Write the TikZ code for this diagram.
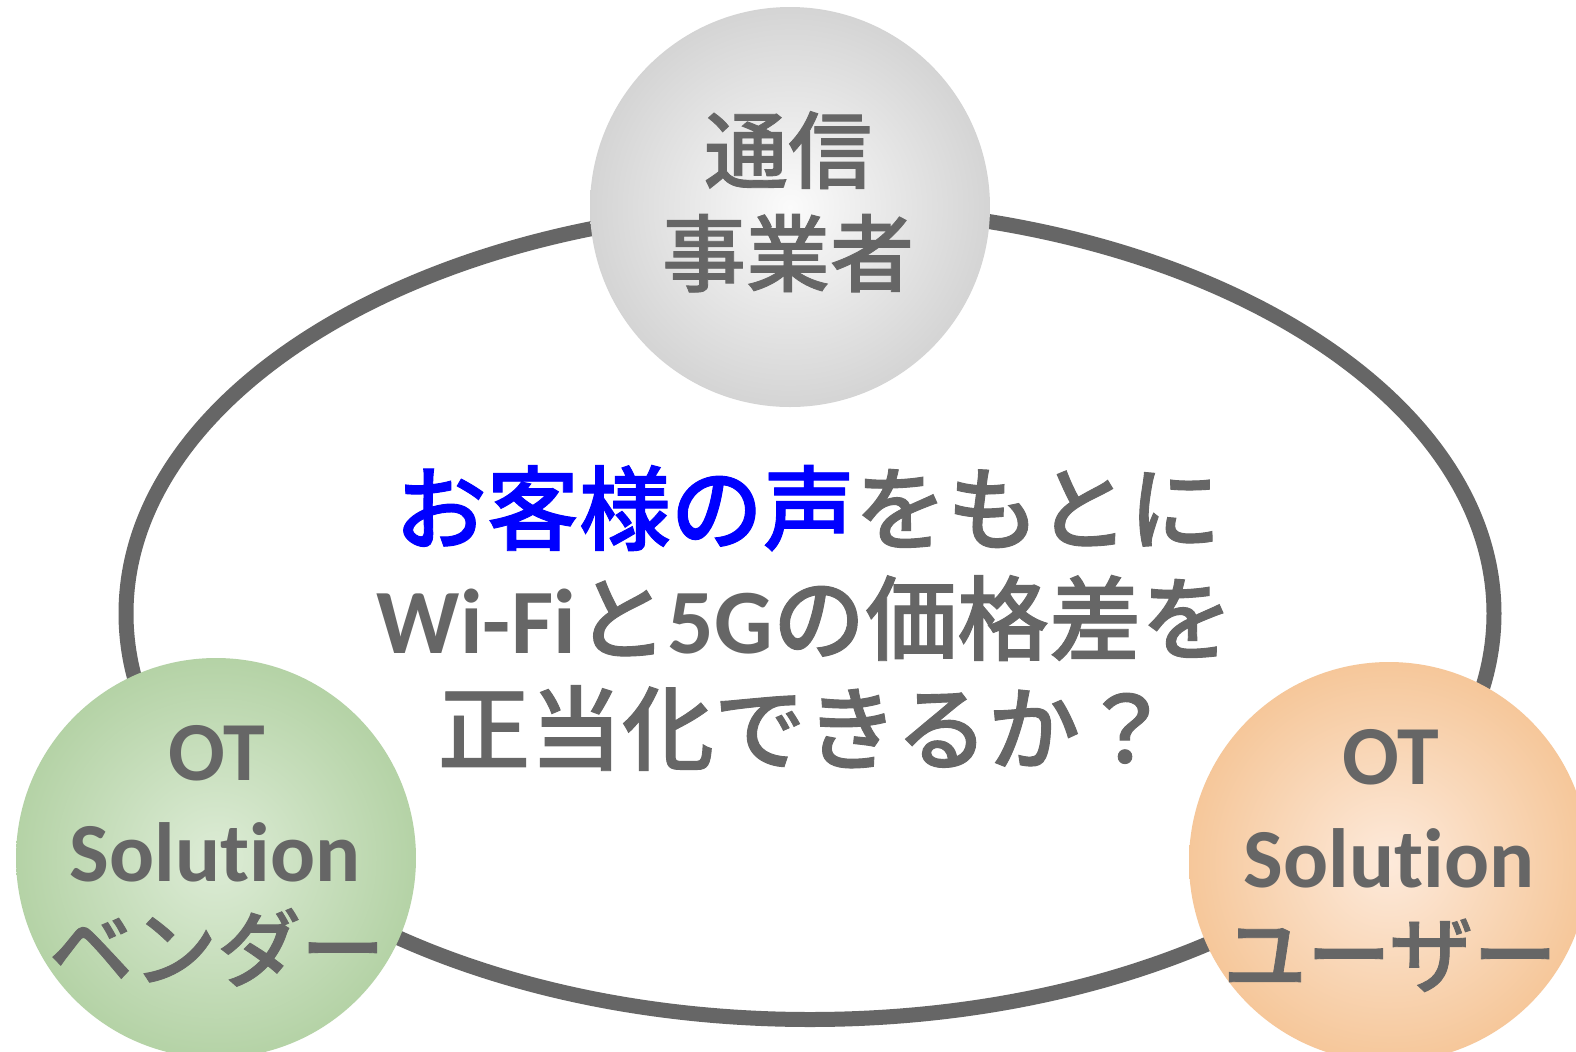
\documentclass[tikz,border=0pt]{standalone}
\usepackage{fontspec}
\newfontfamily\cjk{Noto Sans CJK JP Medium}[FakeBold=1]
\newfontfamily\lat{Carlito}[Ligatures=NoCommon]
\usetikzlibrary{shapes.geometric}
\definecolor{txt}{HTML}{666666}
\definecolor{ringc}{HTML}{666666}
\definecolor{gin}{HTML}{FBFBFB}
\definecolor{gout}{HTML}{BDBDBD}
\definecolor{grin}{HTML}{DDECD6}
\definecolor{grout}{HTML}{9CC389}
\definecolor{orin}{HTML}{FDEADB}
\definecolor{orout}{HTML}{F1B273}
\definecolor{voice}{HTML}{0000FF}
\pgfdeclareradialshading{grayball}{\pgfpoint{0bp}{0bp}}{color(0bp)=(gin); color(40bp)=(gout); color(50bp)=(gout)}
\pgfdeclareradialshading{greenball}{\pgfpoint{0bp}{0bp}}{color(0bp)=(grin); color(40bp)=(grout); color(50bp)=(grout)}
\pgfdeclareradialshading{orangeball}{\pgfpoint{0bp}{0bp}}{color(0bp)=(orin); color(40bp)=(orout); color(50bp)=(orout)}
\begin{document}
\begin{tikzpicture}[x=0.5pt,y=-0.5pt,
  ball/.style={circle, inner sep=0pt, minimum size=200pt},
  jlbl/.style={anchor=base, inner sep=0pt, text=txt, font=\cjk\fontsize{42}{42}\selectfont},
  llbl/.style={anchor=base, inner sep=0pt, text=txt, font=\lat\bfseries\fontsize{42}{42}\selectfont},
  midl/.style={anchor=base, inner sep=0pt, text=txt, font=\cjk\fontsize{46}{46}\selectfont}]
\useasboundingbox (0,0) rectangle (1576,1051);
\clip (0,0) rectangle (1576,1051);
\fill[white] (0,0) rectangle (1576,1051);
\node[draw=ringc, ellipse, inner sep=0pt, minimum width=684pt, minimum height=406pt, line width=7.5pt] (ring) at (810,613.5) {};
\node[ball, shading=grayball] (telco) at (790,207) {};
\node[ball, shading=greenball] (vendor) at (216,858) {};
\node[ball, shading=orangeball] (user) at (1389,862) {};
% top circle
\node[jlbl] (t1) at (788,182) {通信};
\node[jlbl] (t2) at (788,285) {事業者};
% left circle
\node[llbl] (v1) at (217,780) {OT};
\node[llbl] (v2) at (215,881) {Solution};
\node[jlbl] (v3) at (217,980) {ベンダー};
% right circle
\node[llbl] (u1) at (1391,784) {OT};
\node[llbl] (u2) at (1389,887) {Solution};
\node[jlbl] (u3) at (1390,986) {ユーザー};
% middle text
\node[midl] (m1) at (808,543) {\textcolor{voice}{お客様の声}をもとに};
\node[midl] (m2) at (805,653) {{\lat\bfseries Wi-Fi}と{\lat\bfseries 5G}の価格差を};
\node[midl] (m3) at (805,763) {正当化できるか？};
\end{tikzpicture}
\end{document}
